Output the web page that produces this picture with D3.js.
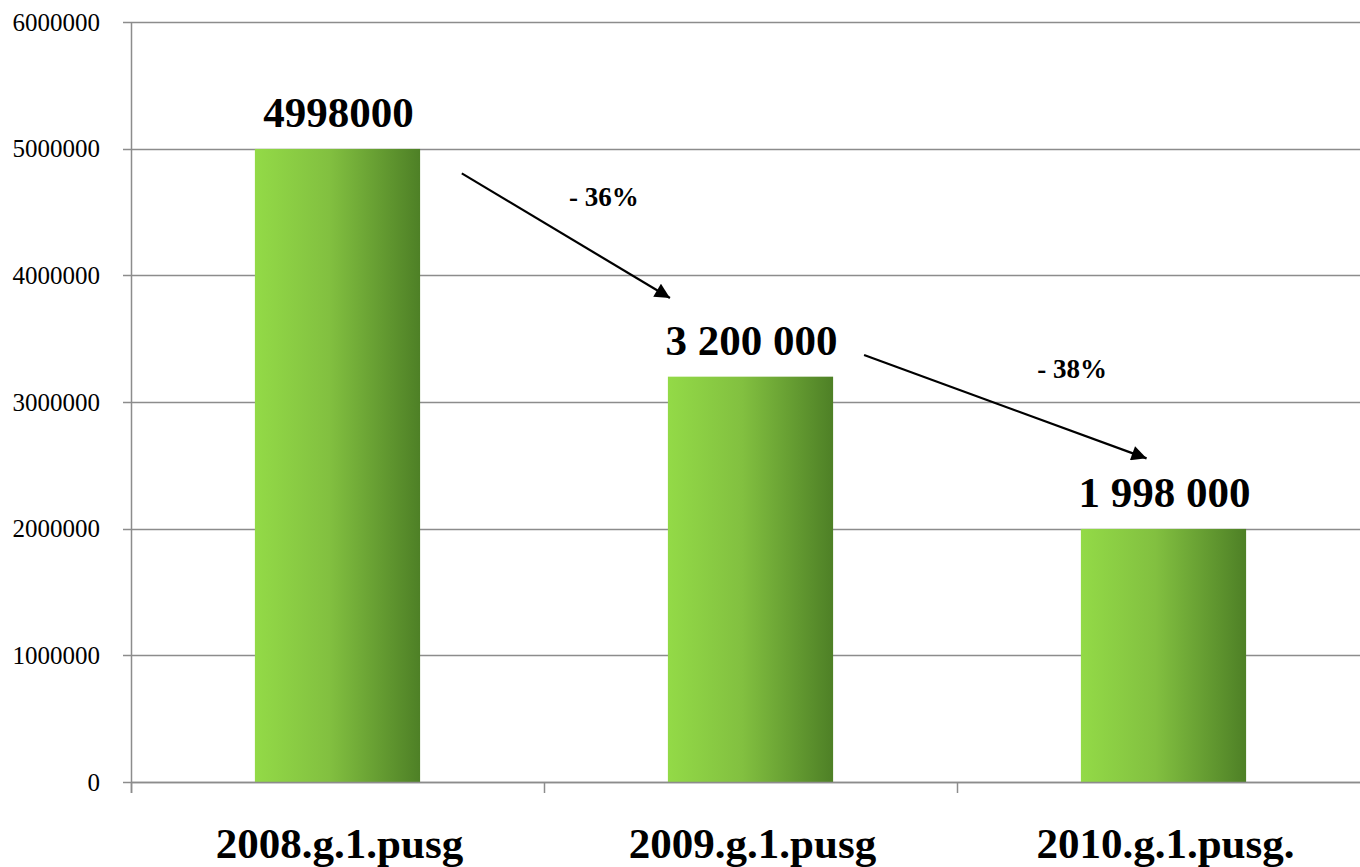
<!DOCTYPE html>
<html>
<head>
<meta charset="utf-8">
<script src="https://cdn.jsdelivr.net/npm/d3@7"></script>
<style>
html, body { margin: 0; padding: 0; background: #fff; }
svg { display: block; }
</style>
</head>
<body>
<svg id="chart" width="1360" height="867"></svg>
<script>
// ---- data ----
const categories = ["2008.g.1.pusg", "2009.g.1.pusg", "2010.g.1.pusg."];
const values = [4998000, 3200000, 1998000];
const valueLabels = ["4998000", "3 200 000", "1 998 000"];
const yTicks = [0, 1000000, 2000000, 3000000, 4000000, 5000000, 6000000];
// change annotations: arrow from/to in (band units, value); label position
const changeLabels = ["- 36%", "- 38%"];
const arrowFromBand = [0.801, 1.775];
const arrowFromValue = [4805000, 3371000];
const arrowToBand = [1.305, 2.459];
const arrowToValue = [3821000, 2555000];
const labelBand = [1.145, 2.279];
const labelValue = [4547000, 3189000];

(function () {
const svg = d3.select("#chart");
const pLeft = 131, pRight = 1370, pTop = 22, pBottom = 782;
const gridColor = "#8c8c8c";
const font = "'Liberation Serif', 'Times New Roman', serif";

const x = d3.scaleBand().domain(categories).range([pLeft, pRight]).paddingInner(0).paddingOuter(0);
const bandPos = d3.scaleLinear().domain([0, categories.length]).range([pLeft, pRight]);
const y = d3.scaleLinear().domain([0, 6000000]).range([pBottom, pTop]);

const defs = svg.append("defs");
const grad = defs.append("linearGradient").attr("id", "barGrad")
  .attr("x1", "0%").attr("x2", "100%").attr("y1", "0%").attr("y2", "0%");
grad.append("stop").attr("offset", "0%").attr("stop-color", "#93da47");
grad.append("stop").attr("offset", "45%").attr("stop-color", "#82c040");
grad.append("stop").attr("offset", "100%").attr("stop-color", "#4e8026");

defs.append("marker").attr("id", "arrowHead")
  .attr("viewBox", "0 0 10 10").attr("refX", 10).attr("refY", 5)
  .attr("markerUnits", "userSpaceOnUse")
  .attr("markerWidth", 19).attr("markerHeight", 15)
  .attr("orient", "auto")
  .append("path").attr("d", "M0,0 L10,5 L0,10 Z").attr("fill", "#000");

// gridlines
svg.append("g").selectAll("line").data(yTicks).join("line")
  .attr("x1", pLeft - 8).attr("x2", 1360)
  .attr("y1", d => Math.round(y(d)) + 0.5).attr("y2", d => Math.round(y(d)) + 0.5)
  .attr("stroke", gridColor).attr("stroke-width", 1.5);

// y axis
const yAxis = d3.axisLeft(y).tickValues(yTicks).tickFormat(d3.format("d")).tickSize(0).tickPadding(31);
const yg = svg.append("g").attr("transform", `translate(${pLeft},0)`).call(yAxis);
yg.select(".domain").remove();
yg.selectAll("text").attr("font-family", font).attr("font-size", 25).attr("fill", "#000");

svg.append("line").attr("x1", pLeft + 0.5).attr("x2", pLeft + 0.5)
  .attr("y1", pTop).attr("y2", pBottom + 11)
  .attr("stroke", gridColor).attr("stroke-width", 1.5);

// bars
const barW = x.bandwidth() * 0.40;
svg.append("g").selectAll("rect").data(values).join("rect")
  .attr("x", (d, i) => x(categories[i]) + x.bandwidth() / 2 - barW / 2)
  .attr("width", barW)
  .attr("y", d => y(d))
  .attr("height", d => y(0) - y(d))
  .attr("fill", "url(#barGrad)");

// x axis
svg.append("line").attr("x1", pLeft).attr("x2", 1360)
  .attr("y1", pBottom + 0.5).attr("y2", pBottom + 0.5)
  .attr("stroke", gridColor).attr("stroke-width", 1.5);
svg.append("g").selectAll("line").data(categories).join("line")
  .attr("x1", d => x(d) + 0.5).attr("x2", d => x(d) + 0.5)
  .attr("y1", pBottom).attr("y2", pBottom + 11)
  .attr("stroke", gridColor).attr("stroke-width", 1.5);

// category labels
svg.append("g").selectAll("text").data(categories).join("text")
  .attr("x", d => x(d) + x.bandwidth() / 2 + 2)
  .attr("y", 858)
  .attr("text-anchor", "middle")
  .attr("font-family", font).attr("font-weight", "bold").attr("font-size", 43)
  .attr("fill", "#000")
  .text(d => d);

// value labels
svg.append("g").selectAll("text").data(values).join("text")
  .attr("x", (d, i) => x(categories[i]) + x.bandwidth() / 2 + 1)
  .attr("y", d => y(d) - 22)
  .attr("text-anchor", "middle")
  .attr("font-family", font).attr("font-weight", "bold").attr("font-size", 43)
  .attr("fill", "#000")
  .text((d, i) => valueLabels[i]);

// arrows
svg.append("g").selectAll("line").data(changeLabels).join("line")
  .attr("x1", (d, i) => bandPos(arrowFromBand[i]))
  .attr("y1", (d, i) => y(arrowFromValue[i]))
  .attr("x2", (d, i) => bandPos(arrowToBand[i]))
  .attr("y2", (d, i) => y(arrowToValue[i]))
  .attr("stroke", "#000").attr("stroke-width", 2.2)
  .attr("marker-end", "url(#arrowHead)");

svg.append("g").selectAll("text").data(changeLabels).join("text")
  .attr("x", (d, i) => bandPos(labelBand[i]))
  .attr("y", (d, i) => y(labelValue[i]))
  .attr("text-anchor", "middle")
  .attr("font-family", font).attr("font-weight", "bold").attr("font-size", 27)
  .attr("fill", "#000")
  .text(d => d);
})();
</script>
</body>
</html>
